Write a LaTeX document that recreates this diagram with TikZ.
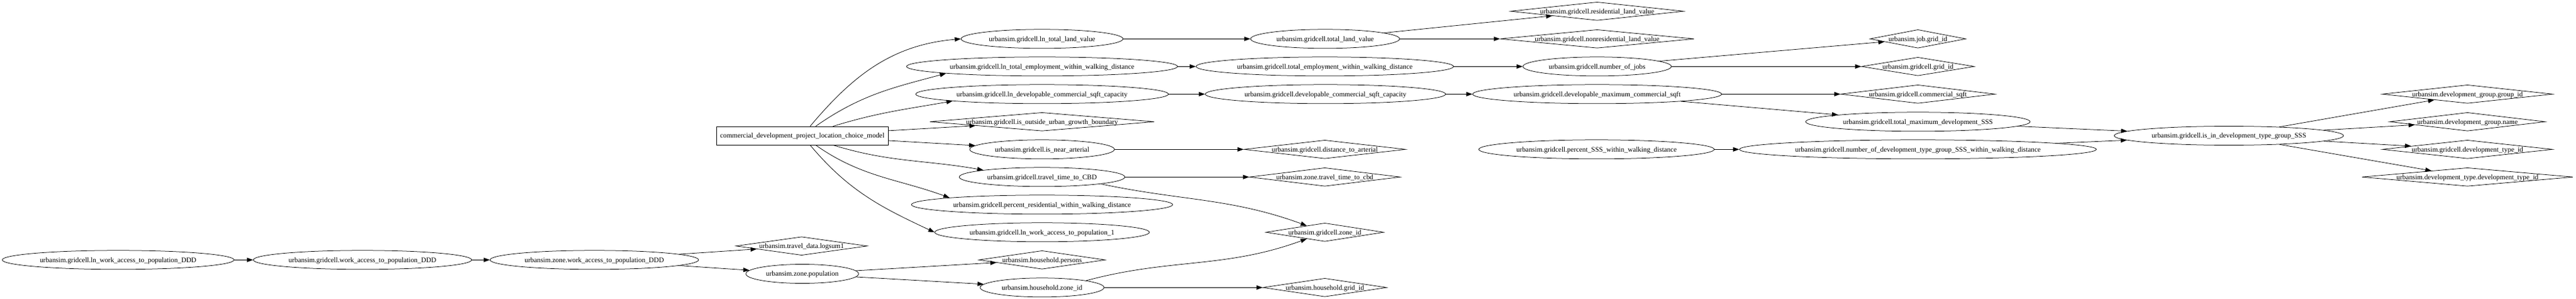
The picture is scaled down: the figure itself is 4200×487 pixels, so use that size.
\documentclass[tikz,border=0pt]{standalone}
\usepackage{fontspec}
\setmainfont{Liberation Serif}
\usetikzlibrary{shapes.geometric,arrows.meta,calc}
\newcommand{\lbl}[1]{\makebox[0pt]{\raisebox{-0.33em}[0pt][0pt]{#1}}}
\tikzset{
  ell/.style={ellipse, draw, line width=0.75pt, inner sep=0pt, minimum height=31pt},
  dia/.style={diamond, draw, line width=0.75pt, inner sep=0pt, minimum height=30pt, aspect=10},
  boxn/.style={rectangle, draw, line width=0.75pt, inner sep=0pt, minimum height=30pt},
  edge/.style={-{Triangle[length=10pt,width=7pt]}, line width=0.75pt},
}
\begin{document}
\begin{tikzpicture}[x=1pt,y=1pt,font=\fontsize{11.4}{13}\selectfont]
\useasboundingbox (0,0) rectangle (4200,-487);
% model box
\node[boxn, minimum width=280pt] (model) at (1308,-221) {\lbl{commercial\_development\_project\_location\_choice\_model}};
% left chain
\node[ell, minimum width=378pt] (lnwaDDD) at (192.6,-423.3) {\lbl{urbansim.gridcell.ln\_work\_access\_to\_population\_DDD}};
\node[ell, minimum width=356pt] (waDDD) at (591,-423.3) {\lbl{urbansim.gridcell.work\_access\_to\_population\_DDD}};
\node[ell, minimum width=340pt] (zwaDDD) at (969,-423.3) {\lbl{urbansim.zone.work\_access\_to\_population\_DDD}};
\node[dia, minimum width=214pt] (logsum) at (1307,-400.7) {\lbl{urbansim.travel\_data.logsum1}};
\node[ell, minimum width=184pt] (zpop) at (1308,-446) {\lbl{urbansim.zone.population}};
% column 1699
\node[ell, minimum width=264pt] (lnland) at (1699,-63.3) {\lbl{urbansim.gridcell.ln\_total\_land\_value}};
\node[ell, minimum width=442pt] (lnemp) at (1699,-108.3) {\lbl{urbansim.gridcell.ln\_total\_employment\_within\_walking\_distance}};
\node[ell, minimum width=412pt] (lndev) at (1699,-153.3) {\lbl{urbansim.gridcell.ln\_developable\_commercial\_sqft\_capacity}};
\node[dia, minimum width=366pt] (isout) at (1699,-198.3) {\lbl{urbansim.gridcell.is\_outside\_urban\_growth\_boundary}};
\node[ell, minimum width=236pt] (isnear) at (1699,-243.3) {\lbl{urbansim.gridcell.is\_near\_arterial}};
\node[ell, minimum width=270pt] (ttcbd) at (1699,-288.3) {\lbl{urbansim.gridcell.travel\_time\_to\_CBD}};
\node[ell, minimum width=426pt] (pres) at (1699,-333.3) {\lbl{urbansim.gridcell.percent\_residential\_within\_walking\_distance}};
\node[ell, minimum width=350pt] (lnw1) at (1699,-378.3) {\lbl{urbansim.gridcell.ln\_work\_access\_to\_population\_1}};
\node[dia, minimum width=206pt] (persons) at (1699,-423.3) {\lbl{urbansim.household.persons}};
\node[ell, minimum width=202pt] (hzone) at (1699,-468.3) {\lbl{urbansim.household.zone\_id}};
% column 2160
\node[ell, minimum width=243pt] (totland) at (2160.5,-63.3) {\lbl{urbansim.gridcell.total\_land\_value}};
\node[ell, minimum width=420pt] (totemp) at (2160,-108.3) {\lbl{urbansim.gridcell.total\_employment\_within\_walking\_distance}};
\node[ell, minimum width=392pt] (devcap) at (2161,-153.3) {\lbl{urbansim.gridcell.developable\_commercial\_sqft\_capacity}};
\node[dia, minimum width=264pt] (dist) at (2160,-243.3) {\lbl{urbansim.gridcell.distance\_to\_arterial}};
\node[dia, minimum width=246pt] (ztt) at (2160,-288.3) {\lbl{urbansim.zone.travel\_time\_to\_cbd}};
\node[dia, minimum width=192pt] (gzone) at (2160,-378.3) {\lbl{urbansim.gridcell.zone\_id}};
\node[dia, minimum width=202pt] (hgrid) at (2160,-468.3) {\lbl{urbansim.household.grid\_id}};
% column 2604
\node[dia, minimum width=282pt] (resid) at (2604,-18.3) {\lbl{urbansim.gridcell.residential\_land\_value}};
\node[dia, minimum width=316pt] (nonres) at (2604,-63.3) {\lbl{urbansim.gridcell.nonresidential\_land\_value}};
\node[ell, minimum width=242pt] (jobs) at (2604,-108.3) {\lbl{urbansim.gridcell.number\_of\_jobs}};
\node[ell, minimum width=406pt] (devmax) at (2604,-153.3) {\lbl{urbansim.gridcell.developable\_maximum\_commercial\_sqft}};
\node[ell, minimum width=384pt] (pSSS) at (2603,-243.3) {\lbl{urbansim.gridcell.percent\_SSS\_within\_walking\_distance}};
% column 3127
\node[dia, minimum width=156pt] (jobgrid) at (3127,-63.3) {\lbl{urbansim.job.grid\_id}};
\node[dia, minimum width=184pt] (ggrid) at (3127,-108.3) {\lbl{urbansim.gridcell.grid\_id}};
\node[dia, minimum width=252pt] (comm) at (3127,-153.3) {\lbl{urbansim.gridcell.commercial\_sqft}};
\node[ell, minimum width=366pt] (totmax) at (3127,-198.3) {\lbl{urbansim.gridcell.total\_maximum\_development\_SSS}};
\node[ell, minimum width=582pt] (numdev) at (3127,-243.3) {\lbl{urbansim.gridcell.number\_of\_development\_type\_group\_SSS\_within\_walking\_distance}};
% column 3634 / 4023
\node[ell, minimum width=374pt] (isin) at (3634,-221) {\lbl{urbansim.gridcell.is\_in\_development\_type\_group\_SSS}};
\node[dia, minimum width=278pt] (grpid) at (4023,-153.3) {\lbl{urbansim.development\_group.group\_id}};
\node[dia, minimum width=254pt] (grpname) at (4023,-198.3) {\lbl{urbansim.development\_group.name}};
\node[dia, minimum width=278pt] (gdt) at (4023,-243.3) {\lbl{urbansim.gridcell.development\_type\_id}};
\node[dia, minimum width=344pt] (dtdt) at (4023,-288.3) {\lbl{urbansim.development\_type.development\_type\_id}};
% edges
\draw[edge] (lnwaDDD) -- (waDDD);
\draw[edge] (waDDD) -- (zwaDDD);
\draw[edge] (zwaDDD) -- (logsum);
\draw[edge] (zwaDDD) -- (zpop);
\draw[edge] (zpop) -- (persons);
\draw[edge] (zpop) -- (hzone);
\draw[edge] (hzone) -- (hgrid);
\draw[edge] (hzone.north east) to[out=15,in=200] (gzone);
\draw[edge] (ttcbd) -- (ztt);
\draw[edge] (ttcbd.south east) to[out=-12,in=160] (gzone);
\draw[edge] (model) to[out=50,in=185] (lnland.west);
\draw[edge] (model) to[out=35,in=195] (lnemp.south west);
\draw[edge] (model) to[out=17,in=190] (lndev.south west);
\draw[edge] (model) -- (isout);
\draw[edge] (model) -- (isnear);
\draw[edge] (model) to[out=-17,in=170] (ttcbd.north west);
\draw[edge] (model) to[out=-35,in=160] (pres.north west);
\draw[edge] (model) to[out=-50,in=155] (lnw1.west);
\draw[edge] (isnear) -- (dist);
\draw[edge] (lnland) -- (totland);
\draw[edge] (totland) -- (resid);
\draw[edge] (totland) -- (nonres);
\draw[edge] (lnemp) -- (totemp);
\draw[edge] (totemp) -- (jobs);
\draw[edge] (jobs) -- (jobgrid);
\draw[edge] (jobs) -- (ggrid);
\draw[edge] (lndev) -- (devcap);
\draw[edge] (devcap) -- (devmax);
\draw[edge] (devmax) -- (comm);
\draw[edge] (devmax) -- (totmax);
\draw[edge] (pSSS) -- (numdev);
\draw[edge] (totmax) -- (isin);
\draw[edge] (numdev) -- (isin);
\draw[edge] (isin) -- (grpid);
\draw[edge] (isin) -- (grpname);
\draw[edge] (isin) -- (gdt);
\draw[edge] (isin) -- (dtdt);
\end{tikzpicture}
\end{document}
